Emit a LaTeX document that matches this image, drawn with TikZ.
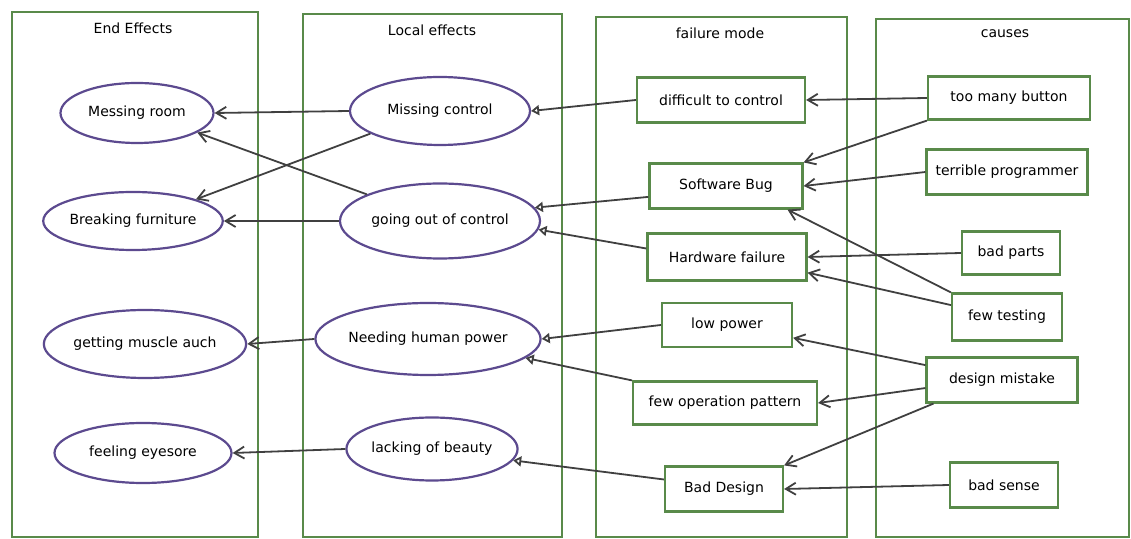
\documentclass[tikz,border=0pt]{standalone}
\usepackage{fontspec}
\setmainfont{DejaVu Sans}
\usetikzlibrary{arrows.meta,shapes.geometric}
\definecolor{BoxClr}{rgb}{0.35,0.54,0.29}
\definecolor{EllClr}{rgb}{0.36,0.29,0.56}
\definecolor{LineClr}{rgb}{0.25,0.25,0.25}

\begin{document}
\begin{tikzpicture}[x=0.5pt,y=-0.5pt,
  font=\fontsize{7}{8}\selectfont,
  colbox/.style={draw=BoxClr,line width=1pt},
  effect/.style={ellipse,draw=EllClr,line width=1.1pt,inner sep=0pt,fill=white},
  mode/.style={rectangle,draw=BoxClr,line width=1.1pt,inner sep=0pt,fill=white},
  lnk/.style={draw=LineClr,line width=0.9pt,-{Straight Barb[length=5pt,width=6pt]}},
  lnktri/.style={draw=LineClr,line width=0.9pt,-{Triangle[open,length=4pt,width=5pt]}}]
\useasboundingbox (0,0) rectangle (1131,539);

% columns
\draw[colbox] (12,12) rectangle (258,537);
\draw[colbox] (303,14) rectangle (562,537);
\draw[colbox] (596,17) rectangle (847,537);
\draw[colbox] (876,19) rectangle (1129,537);

\node (tEnd) at (133,28) {End Effects};
\node (tLoc) at (432,30) {Local effects};
\node (tMode) at (720,33) {failure mode};
\node (tCause) at (1005,34) {causes};

% end effects
\node[effect,minimum width=76.5pt,minimum height=30pt] (mr) at (137,113) {Messing room};
\node[effect,minimum width=80pt,minimum height=29pt] (bf) at (133,221) {Breaking furniture};
\node[effect,minimum width=95pt,minimum height=34pt] (gm) at (145,344) {getting muscle auch};
\node[effect,minimum width=88.5pt,minimum height=30pt] (fe) at (143,453) {feeling eyesore};

% local effects
\node[effect,minimum width=90pt,minimum height=34pt] (mc) at (440,111) {Missing control};
\node[effect,minimum width=100pt,minimum height=37.5pt] (go) at (440,221) {going out of control};
\node[effect,minimum width=101.5pt,minimum height=36pt] (nh) at (428,339) {Needing human power};
\node[effect,minimum width=79.5pt,minimum height=31.5pt] (lb) at (432,449) {lacking of beauty};

% failure modes
\node[mode,minimum width=84pt,minimum height=22.5pt] (dc) at (721,100) {difficult to control};
\node[mode,minimum width=76.5pt,minimum height=22.5pt] (sb) at (726,186) {Software Bug};
\node[mode,minimum width=79.5pt,minimum height=23.5pt] (hf) at (727,257) {Hardware failure};
\node[mode,minimum width=65pt,minimum height=22pt] (lp) at (727,325) {low power};
\node[mode,minimum width=92pt,minimum height=21.5pt] (fo) at (725,403) {few operation pattern};
\node[mode,minimum width=59pt,minimum height=22.5pt] (bd) at (724,489) {Bad Design};

% causes
\node[mode,minimum width=81pt,minimum height=21.5pt] (tm) at (1009,98) {too many button};
\node[mode,minimum width=80.5pt,minimum height=22.5pt] (tp) at (1007,172) {terrible programmer};
\node[mode,minimum width=49pt,minimum height=21.5pt] (bp) at (1011,253) {bad parts};
\node[mode,minimum width=55pt,minimum height=23.5pt] (ft) at (1007,317) {few testing};
\node[mode,minimum width=75.5pt,minimum height=22.5pt] (dm) at (1002,380) {design mistake};
\node[mode,minimum width=54pt,minimum height=22.5pt] (bs) at (1004,485) {bad sense};

% causes -> failure modes
\draw[lnk] (tm.west) -- (dc.east);
\draw[lnk] (tm.south west) -- (sb.north east);
\draw[lnk] (tp.west) -- (sb.east);
\draw[lnk] (bp.west) -- (hf.east);
\draw[lnk] (ft.north west) -- (sb.-21);
\draw[lnk] (ft.168) -- (hf.-11);
\draw[lnk] (dm.169) -- (lp.-11);
\draw[lnk] (dm.-174) -- (fo.east);
\draw[lnk] (dm.199) -- (bd.north east);
\draw[lnk] (bs.west) -- (bd.east);

% failure modes -> local effects
\draw[lnktri] (dc.west) -- (mc.east);
\draw[lnktri] (sb.188) -- (go.8);
\draw[lnktri] (hf.174) -- (go.-5);
\draw[lnktri] (lp.west) -- (nh.east);
\draw[lnktri] (fo.north west) -- (nh.-11);
\draw[lnktri] (bd.171) -- (lb.-8);

% local effects -> end effects
\draw[lnk] (mc.west) -- (mr.east);
\draw[lnk] (mc.198) -- (bf.19);
\draw[lnk] (go.160) -- (mr.-18);
\draw[lnk] (go.west) -- (bf.east);
\draw[lnk] (nh.west) -- (gm.east);
\draw[lnk] (lb.west) -- (fe.east);
\end{tikzpicture}
\end{document}
